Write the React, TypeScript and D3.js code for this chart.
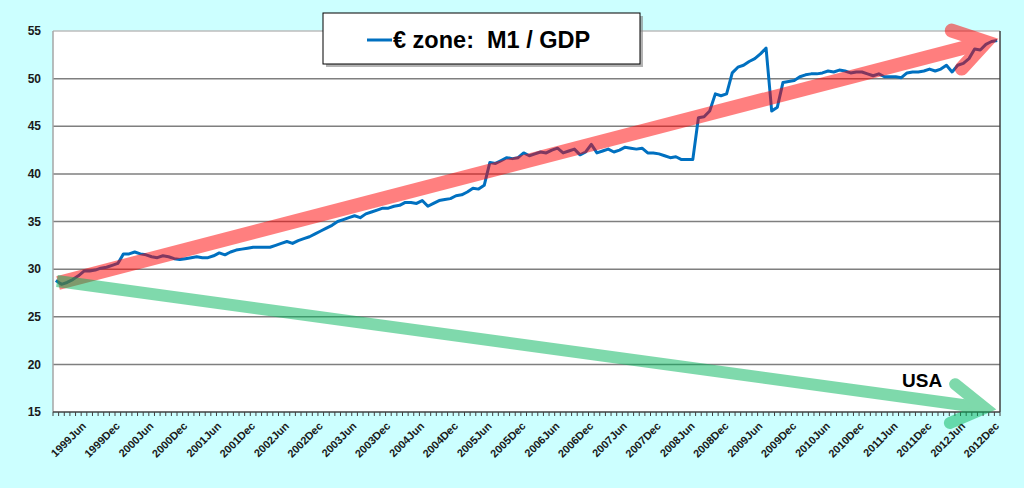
import { useMemo } from "react";
import * as d3 from "d3";

const YEARS = [1999, 2000, 2001, 2002, 2003, 2004, 2005, 2006, 2007, 2008, 2009, 2010, 2011, 2012];
const MONTHS = ["Jan", "Feb", "Mar", "Apr", "May", "Jun", "Jul", "Aug", "Sep", "Oct", "Nov", "Dec"];
const SHOWN_MONTHS = ["Jun", "Dec"];
const Y_TICKS = [15, 20, 25, 30, 35, 40, 45, 50, 55];

// euro zone M1 / GDP, monthly from 1999Jan to 2012Dec
const M1_GDP = [
  28.8, 28.4, 28.6, 28.9, 29.3, 29.8, 29.8, 29.9, 30.1, 30.2, 30.4, 30.6,
  31.6, 31.6, 31.8, 31.6, 31.5, 31.3, 31.2, 31.4, 31.3, 31.1, 31.0, 31.1,
  31.2, 31.3, 31.2, 31.2, 31.4, 31.7, 31.5, 31.8, 32.0, 32.1, 32.2, 32.3,
  32.3, 32.3, 32.3, 32.5, 32.7, 32.9, 32.7, 33.0, 33.2, 33.4, 33.7, 34.0,
  34.3, 34.6, 35.0, 35.2, 35.4, 35.6, 35.4, 35.8, 36.0, 36.2, 36.4, 36.4,
  36.6, 36.7, 37.0, 37.0, 36.9, 37.2, 36.6, 36.9, 37.2, 37.3, 37.4, 37.7,
  37.8, 38.1, 38.5, 38.4, 38.8, 41.2, 41.1, 41.4, 41.7, 41.6, 41.7, 42.2,
  41.9, 42.1, 42.3, 42.2, 42.5, 42.7, 42.2, 42.4, 42.6, 42.0, 42.3, 43.1,
  42.2, 42.4, 42.6, 42.3, 42.5, 42.8, 42.7, 42.6, 42.7, 42.2, 42.2, 42.1,
  41.9, 41.7, 41.8, 41.5, 41.5, 41.5, 45.9, 46.0, 46.6, 48.4, 48.2, 48.4,
  50.6, 51.2, 51.4, 51.8, 52.1, 52.6, 53.2, 46.6, 47.0, 49.6, 49.7, 49.8,
  50.2, 50.4, 50.5, 50.5, 50.6, 50.8, 50.7, 50.9, 50.8, 50.6, 50.7, 50.7,
  50.5, 50.3, 50.5, 50.2, 50.2, 50.2, 50.1, 50.6, 50.7, 50.7, 50.8, 51.0,
  50.8, 51.0, 51.4, 50.7, 51.4, 51.6, 52.1, 53.1, 53.0, 53.6, 53.9, 54.0,
];

// trend arrows drawn over the chart (month position, value)
const RED_ARROW = { tail: [0.9, 28.55], head: [165.5, 53.85], width: 14, barb: 36, angle: 33 };
const GREEN_ARROW = { tail: [0.7, 28.75], head: [165.3, 15.42], width: 12, barb: 38, angle: 31 };

const W = 1024;
const H = 488;
const margin = { top: 31, right: 24, bottom: 76, left: 53 };
const FONT = "'Liberation Sans', Arial, sans-serif";

function arrowPaths(a: typeof RED_ARROW, x: (v: number) => number, y: (v: number) => number) {
  const t = [x(a.tail[0]), y(a.tail[1])];
  const h = [x(a.head[0]), y(a.head[1])];
  const len = Math.hypot(t[0] - h[0], t[1] - h[1]);
  const ux = (t[0] - h[0]) / len;
  const uy = (t[1] - h[1]) / len;
  const rad = (a.angle * Math.PI) / 180;
  const barb = (s: number) => [
    h[0] + a.barb * (ux * Math.cos(s * rad) - uy * Math.sin(s * rad)),
    h[1] + a.barb * (ux * Math.sin(s * rad) + uy * Math.cos(s * rad)),
  ];
  const b1 = barb(1);
  const b2 = barb(-1);
  return {
    shaft: `M${t[0]},${t[1]}L${h[0]},${h[1]}`,
    head: `M${b1[0]},${b1[1]}L${h[0]},${h[1]}L${b2[0]},${b2[1]}`,
  };
}

export default function App() {
  const categories = useMemo(() => YEARS.flatMap((yr) => MONTHS.map((m) => `${yr}${m}`)), []);
  const innerR = W - margin.right;
  const innerB = H - margin.bottom;

  const x = d3.scaleLinear().domain([0, categories.length]).range([margin.left, innerR]);
  const y = d3.scaleLinear().domain([15, 55]).range([innerB, margin.top]);

  const line = d3
    .line<number>()
    .x((_, i) => x(i + 0.5))
    .y((d) => y(d));

  const red = arrowPaths(RED_ARROW, x, y);
  const green = arrowPaths(GREEN_ARROW, x, y);

  return (
    <svg width={W} height={H} style={{ position: "absolute", left: 0, top: 0, fontFamily: FONT }}>
      <rect width={W} height={H} fill="#ccffff" />
      <rect x={margin.left} y={margin.top} width={innerR - margin.left} height={innerB - margin.top} fill="#ffffff" />

      {/* Grid */}
      {Y_TICKS.filter((t) => t > 15 && t < 55).map((t) => (
        <line key={t} x1={margin.left} x2={innerR} y1={y(t)} y2={y(t)} stroke="#7f7f7f" strokeWidth={1.5} />
      ))}
      <line x1={margin.left} x2={innerR} y1={margin.top} y2={margin.top} stroke="#bdbdbd" strokeWidth={1.5} />
      <line x1={margin.left} x2={margin.left} y1={margin.top} y2={innerB} stroke="#a6a6a6" strokeWidth={1.5} />
      <line x1={innerR} x2={innerR} y1={margin.top} y2={innerB} stroke="#404040" strokeWidth={1.5} />

      {/* Y labels */}
      {Y_TICKS.map((t) => (
        <text key={t} x={41} y={y(t)} dy="0.35em" textAnchor="end" fontSize={12} fontWeight="bold" fill="#1a1a1a">
          {t}
        </text>
      ))}

      {/* X axis */}
      <line x1={margin.left} x2={innerR} y1={innerB} y2={innerB} stroke="#404040" strokeWidth={1.5} />
      {d3.range(categories.length + 1).map((k) => (
        <line key={k} x1={x(k)} x2={x(k)} y1={innerB} y2={innerB + 4} stroke="#404040" strokeWidth={1} />
      ))}
      {categories.map((c, i) =>
        SHOWN_MONTHS.some((m) => c.endsWith(m)) ? (
          <text
            key={c}
            transform={`translate(${x(i + 0.5)},${innerB + 12}) rotate(-45)`}
            textAnchor="end"
            dy="0.35em"
            fontSize={11}
            fontWeight="bold"
            fill="#1a1a1a"
          >
            {c}
          </text>
        ) : null,
      )}

      {/* Series */}
      <path d={line(M1_GDP) || ""} fill="none" stroke="#0070c0" strokeWidth={3} strokeLinejoin="round" />

      {/* Trend arrows */}
      <g opacity={0.5} fill="none" stroke="#ff0000" strokeWidth={RED_ARROW.width}>
        <path d={red.shaft} />
        <path d={red.head} strokeLinecap="round" strokeLinejoin="miter" strokeMiterlimit={10} />
      </g>
      <g opacity={0.5} fill="none" stroke="#00b45a" strokeWidth={GREEN_ARROW.width}>
        <path d={green.shaft} />
        <path d={green.head} strokeLinecap="round" strokeLinejoin="miter" strokeMiterlimit={10} />
      </g>
      <text x={902} y={387} fontSize={19} fontWeight="bold" fill="#000">
        USA
      </text>

      {/* Legend */}
      <rect x={326} y={16} width={317} height={51} fill="#808080" opacity={0.6} />
      <rect x={323} y={13} width={317} height={51} fill="#ffffff" stroke="#000" strokeWidth={1} />
      <line x1={367} x2={392} y1={40} y2={40} stroke="#0070c0" strokeWidth={3} />
      <text x={393} y={48} fontSize={23.5} fontWeight="bold" fill="#000" style={{ whiteSpace: "pre" }}>
        {"€ zone:  M1 / GDP"}
      </text>
    </svg>
  );
}
